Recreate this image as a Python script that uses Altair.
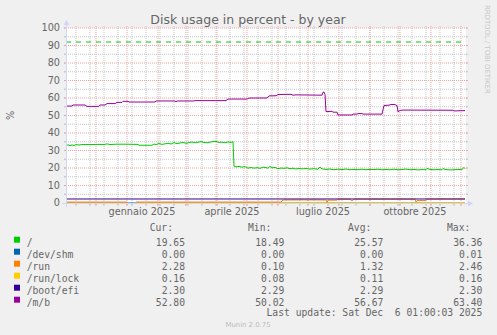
import altair as alt
import pandas as pd

# ------------------------------------------------------------------ data
title_text = "Disk usage in percent - by year"
y_title = "%"
credit_text = "RRDTOOL / TOBI OETIKER"
watermark = "Munin 2.0.75"
last_update = "Last update: Sat Dec\u00a0 6 01:00:03 2025"

start_time = "2024-11-01 01:00"   # graph start (end - 400 days)
span_days = 400
warning_level = 92

series_names = ["/", "/dev/shm", "/run", "/run/lock", "/boot/efi", "/m/b"]
series_colors = ["#00CC00", "#0066B3", "#FF8000", "#FFCC00", "#330099", "#990099"]
cur_vals = ["19.65", "0.00", "2.28", "0.16", "2.30", "52.80"]
min_vals = ["18.49", "0.00", "0.10", "0.08", "2.29", "50.02"]
avg_vals = ["25.57", "0.00", "1.32", "0.11", "2.29", "56.67"]
max_vals = ["36.36", "0.01", "2.46", "0.16", "2.30", "63.40"]
col_headers = ["Cur:", "Min:", "Avg:", "Max:"]

y_ticks = [0, 10, 20, 30, 40, 50, 60, 70, 80, 90, 100]
y_minor = [5, 15, 25, 35, 45, 55, 65, 75, 85, 95]
month_labels = [("2025-01-16", "gennaio 2025"), ("2025-04-16", "aprile 2025"),
                ("2025-07-16", "luglio 2025"), ("2025-10-16", "ottobre 2025")]

# (day since start, value)
root_pts = [(0, 32.6), (2, 33.3), (4, 32.7), (6, 33.2), (8, 32.8), (10, 33.4), (13, 33.1),
            (16, 33.4), (24, 33.4), (34, 33.5), (38, 33.4), (41, 33.8), (44, 33.4), (50, 33.6),
            (60, 33.6), (70, 33.5), (72, 33.5), (73, 33.0), (86, 33.0), (88, 33.7), (90, 33.4),
            (93, 34.0), (96, 33.5), (99, 33.8), (102, 34.1), (105, 33.7), (108, 34.5), (111, 33.9),
            (114, 34.3), (117, 34.6), (120, 34.1), (123, 34.5), (126, 34.9), (129, 34.4),
            (132, 34.7), (135, 35.1), (138, 34.6), (141, 34.4), (144, 34.8), (147, 35.1),
            (150, 35.2), (153, 34.6), (156, 34.8), (159, 34.4), (162, 34.9), (165, 34.6),
            (167, 35.1), (168, 21.0), (170, 20.6), (173, 20.9), (176, 20.5), (179, 20.8),
            (182, 19.9), (185, 20.3), (188, 19.9), (191, 20.2), (194, 19.8), (197, 20.5),
            (200, 20.2), (202, 19.9), (204, 21.0), (206, 20.1), (209, 20.3), (212, 19.6),
            (215, 20.0), (218, 19.8), (221, 20.1), (224, 19.6), (227, 19.9), (230, 19.4),
            (233, 19.8), (236, 19.5), (240, 19.7), (244, 19.4), (248, 19.6), (252, 19.3),
            (254, 20.6), (256, 19.5), (260, 19.2), (264, 19.4), (268, 19.0), (272, 19.3),
            (276, 19.1), (280, 19.4), (284, 19.0), (288, 19.2), (292, 19.0), (296, 19.3),
            (300, 19.0), (304, 19.2), (308, 19.1), (312, 19.3), (316, 19.0), (320, 19.2),
            (324, 19.0), (328, 19.3), (332, 19.0), (336, 19.1), (340, 19.4), (344, 19.0),
            (348, 19.2), (352, 18.9), (356, 19.1), (360, 19.0), (361, 19.7), (364, 19.2),
            (368, 19.0), (372, 19.1), (376, 19.0), (377, 19.6), (380, 19.1), (384, 18.9),
            (388, 19.0), (392, 19.1), (396, 19.2), (398, 20.3), (399, 19.65)]

shm_pts = [(0, 0.0), (399, 0.0)]

# (segment, day, value) - /run has a gap in its data
run_pts = [(0, 0, 0.55), (0, 61, 0.55),
           (1, 70, 0.55), (1, 215, 0.55), (1, 217, 1.7), (1, 241, 1.75), (1, 242, 1.5),
           (1, 243, 1.75), (1, 260, 1.7), (1, 261, 0.3), (1, 262, 1.6), (1, 271, 1.6),
           (1, 272, 2.2), (1, 284, 2.2), (1, 285, 1.5), (1, 287, 1.5), (1, 288, 2.2),
           (1, 349, 2.2), (1, 350, 0.5), (1, 351, 1.4), (1, 360, 1.4), (1, 361, 2.25),
           (1, 399, 2.28)]

lock_pts = [(0, 0, 0.08), (0, 61, 0.08), (1, 70, 0.1), (1, 399, 0.16)]

efi_pts = [(0, 2.29), (399, 2.30)]

mb_pts = [(0, 55.4), (6, 55.4), (7, 56.0), (19, 56.0), (21, 55.2), (33, 55.2), (34, 56.0),
          (39, 56.0), (41, 56.8), (49, 56.8), (51, 57.5), (56, 57.5), (57, 58.1), (62, 58.1),
          (63, 57.7), (89, 57.7), (90, 58.3), (109, 58.3), (110, 57.8), (111, 58.3),
          (128, 58.3), (129, 58.5), (160, 58.5), (162, 59.4), (181, 59.4), (183, 60.0),
          (201, 60.0), (203, 61.2), (210, 61.3), (212, 62.0), (225, 62.1), (227, 61.6),
          (230, 61.8), (256, 61.6), (257, 63.3), (258, 63.4), (259, 62.0), (260, 52.2),
          (266, 52.4), (267, 51.9), (271, 51.9), (272, 50.3), (286, 50.3), (287, 50.8),
          (291, 50.8), (292, 51.1), (296, 51.1), (297, 50.8), (316, 50.8), (318, 55.7),
          (323, 55.9), (325, 56.3), (329, 56.3), (330, 55.8), (331, 55.7), (332, 52.1),
          (334, 52.9), (337, 53.1), (387, 53.0), (388, 52.6), (399, 52.8)]

# ------------------------------------------------------------------ helpers
start = pd.Timestamp(start_time)


def day_of(ts):
    return (pd.Timestamp(ts) - start) / pd.Timedelta(days=1)


W, H = 400, 175
FONT = "DejaVu Sans"
MONO = "DejaVu Sans Mono"
FC = "#666666"
GRID = "#C4C4C4"
MGRID = "#EDA3A3"
AXIS = "#CFD6F8"

xs = alt.Scale(domain=[0, span_days], nice=False, zero=False)
ys = alt.Scale(domain=[0, 100], nice=False, zero=False)
X = alt.X("day:Q", scale=xs, axis=None)
Y = alt.Y("v:Q", scale=ys, axis=None)

major_x = [day_of(d) for d in pd.date_range("2024-12-01", "2025-12-01", freq="MS")]
minor_x = [day_of(d) for d in pd.date_range("2024-11-11", "2025-12-05", freq="14D")]

layers = []

# grid
df_minx = pd.DataFrame({"day": minor_x})
df_majx = pd.DataFrame({"day": major_x})
df_miny = pd.DataFrame({"v": y_minor})
df_majy = pd.DataFrame({"v": y_ticks[1:]})

for dfx, col in ((df_minx, GRID), (df_majx, MGRID)):
    layers.append(alt.Chart(dfx).mark_rule(color=col, strokeWidth=1, strokeDash=[1, 1]).encode(
        x=X, y=alt.value(-2), y2=alt.value(177)))
    layers.append(alt.Chart(dfx).mark_rule(color=col, strokeWidth=1).encode(
        x=X, y=alt.value(175), y2=alt.value(178)))
for dfy, col in ((df_miny, GRID), (df_majy, MGRID)):
    layers.append(alt.Chart(dfy).mark_rule(color=col, strokeWidth=1, strokeDash=[1, 1]).encode(
        y=Y, x=alt.value(-2), x2=alt.value(402)))
    layers.append(alt.Chart(dfy).mark_rule(color=col, strokeWidth=1).encode(
        y=Y, x=alt.value(-2), x2=alt.value(0)))
    layers.append(alt.Chart(dfy).mark_rule(color=col, strokeWidth=1).encode(
        y=Y, x=alt.value(400), x2=alt.value(402)))


def line_layer(pts, color, segmented=False):
    if segmented:
        df = pd.DataFrame(pts, columns=["seg", "day", "v"])
        enc = dict(x=X, y=Y, detail="seg:N")
    else:
        df = pd.DataFrame(pts, columns=["day", "v"])
        enc = dict(x=X, y=Y)
    return alt.Chart(df).mark_line(color=color, strokeWidth=1, interpolate="linear").encode(**enc)


# near-zero series first so that /run stays visible above them
layers.append(line_layer(shm_pts, series_colors[1]))
layers.append(line_layer(lock_pts, series_colors[3], segmented=True))
layers.append(line_layer(root_pts, series_colors[0]))
layers.append(line_layer(run_pts, series_colors[2], segmented=True))
layers.append(line_layer(efi_pts, series_colors[4]))
layers.append(line_layer(mb_pts, series_colors[5]))

# warning line
warn_df = pd.DataFrame({"day": [0, span_days], "v": [warning_level, warning_level]})
layers.append(alt.Chart(warn_df).mark_line(color=series_colors[0], strokeWidth=1,
                                           strokeDash=[5, 5]).encode(x=X, y=Y))

# axes
layers.append(alt.Chart(pd.DataFrame({"a": [0]})).mark_rule(color=AXIS, strokeWidth=1).encode(
    x=alt.value(-4), x2=alt.value(404), y=alt.value(175.5)))
layers.append(alt.Chart(pd.DataFrame({"a": [0]})).mark_rule(color=AXIS, strokeWidth=1).encode(
    x=alt.value(0.5), y=alt.value(-4), y2=alt.value(179)))
layers.append(alt.Chart(pd.DataFrame({"a": [0]})).mark_point(
    shape="M-1,0.833L1,0.833L0,-0.833Z", size=36, filled=True, opacity=1, color=AXIS,
    strokeWidth=0).encode(x=alt.value(0.5), y=alt.value(-5.5)))
layers.append(alt.Chart(pd.DataFrame({"a": [0]})).mark_point(
    shape="M-0.833,-1L-0.833,1L0.833,0Z", size=36, filled=True, opacity=1, color=AXIS,
    strokeWidth=0).encode(x=alt.value(404.5), y=alt.value(175.5)))

# tick labels
layers.append(alt.Chart(pd.DataFrame({"v": y_ticks, "t": [str(v) for v in y_ticks]})).mark_text(
    font=FONT, fontSize=9.7, color=FC, align="right", baseline="middle").encode(
    y=Y, x=alt.value(-6), text="t:N"))
layers.append(alt.Chart(pd.DataFrame({"day": [day_of(d) for d, _ in month_labels],
                                      "t": [t for _, t in month_labels]})).mark_text(
    font=FONT, fontSize=9.7, color=FC, align="center", baseline="alphabetic").encode(
    x=X, y=alt.value(186.7), text="t:N"))


def text_layer(s, x, y, size, font=FONT, color=FC, align="left", baseline="alphabetic", angle=0):
    return alt.Chart(pd.DataFrame({"t": [s]})).mark_text(
        font=font, fontSize=size, color=color, align=align, baseline=baseline,
        angle=angle).encode(text="t:N", x=alt.value(x), y=alt.value(y))


layers.append(text_layer(title_text, 182, -4.3, 12.5, align="center"))
layers.append(text_layer(y_title, -55.5, 87.5, 9.7, align="center", baseline="middle", angle=270))
layers.append(text_layer(credit_text, 421, -23, 6.9, color="#C6C6C6", align="left",
                         baseline="middle", angle=90))
layers.append(text_layer(watermark, 182, 298.7, 6.9, color="#BBBBBB", align="center"))

# legend
leg = pd.DataFrame({"row": list(range(len(series_names))), "name": series_names,
                    "color": series_colors, "cur": cur_vals, "mn": min_vals,
                    "avg": avg_vals, "mx": max_vals})
row_base = alt.Y("row:Q", scale=alt.Scale(domain=[0, 5], range=[215.3, 275.3], nice=False,
                                          zero=False), axis=None)
row_mid = alt.Y("row:Q", scale=alt.Scale(domain=[0, 5], range=[211.7, 271.7], nice=False,
                                         zero=False), axis=None)

layers.append(alt.Chart(leg).mark_square(size=36, filled=True, opacity=1, strokeWidth=0).encode(
    x=alt.value(-49), y=row_mid, color=alt.Color("color:N", scale=None)))
layers.append(alt.Chart(leg).mark_text(font=MONO, fontSize=9.7, color=FC, align="left").encode(
    x=alt.value(-39.3), y=row_base, text="name:N"))
for field, xr in (("cur", 119), ("mn", 218.3), ("avg", 317.3), ("mx", 416.3)):
    layers.append(alt.Chart(leg).mark_text(font=MONO, fontSize=9.7, color=FC, align="right").encode(
        x=alt.value(xr), y=row_base, text=f"{field}:N"))
for h, xl in zip(col_headers, (83.7, 182, 282, 381)):
    layers.append(text_layer(h, xl, 203.3, 9.7, font=MONO))
layers.append(text_layer(last_update, 416.3, 288, 9.7, font=MONO, align="right"))

chart = alt.layer(*layers).resolve_scale(y="independent").properties(
    width=W, height=H, autosize="none",
    padding={"left": 66, "top": 28, "right": 31, "bottom": 132},
    background="#F0F0F0",
).configure_view(fill="#FFFFFF", stroke=None)

chart.save("out.html", embed_options={"renderer": "svg", "actions": False})
